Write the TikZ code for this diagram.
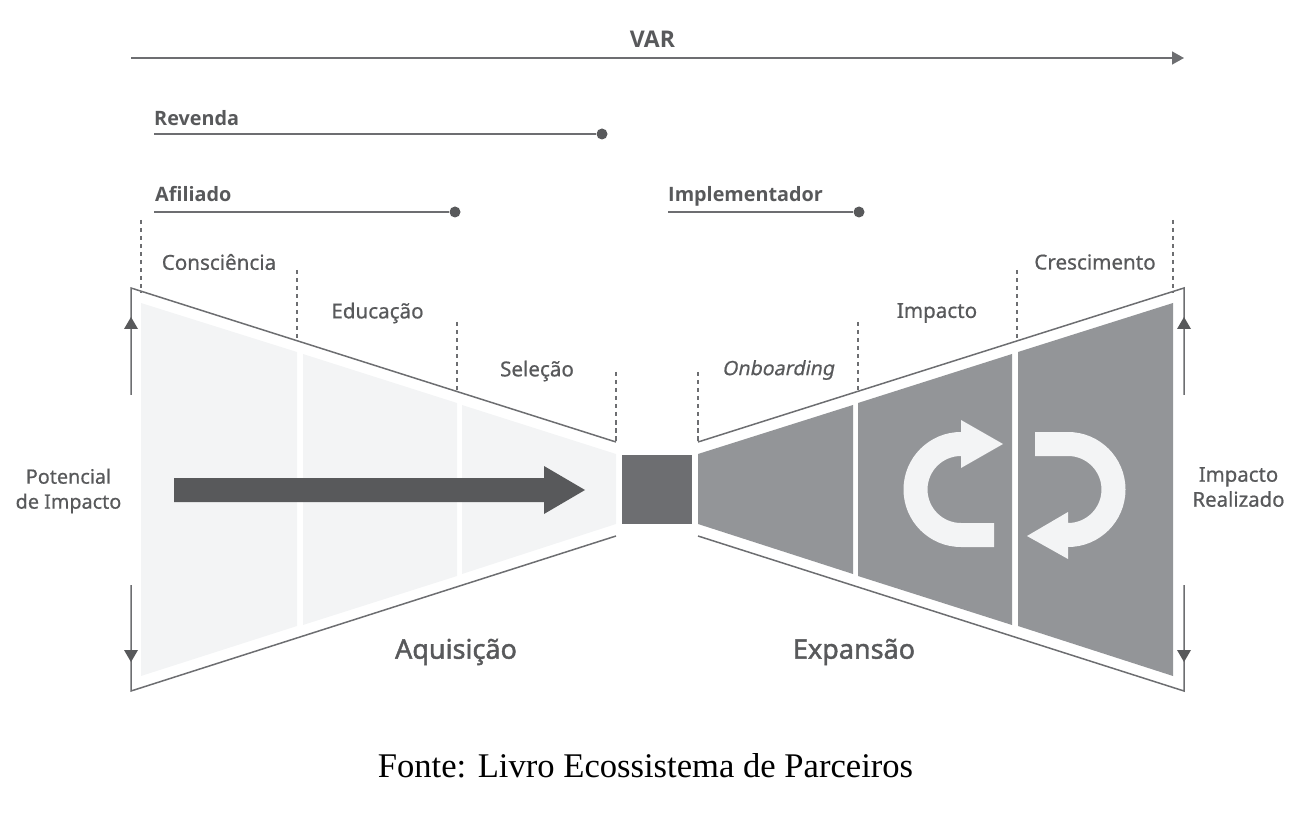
\documentclass[tikz,border=0pt]{standalone}
\usepackage{fontspec}
\setmainfont{Noto Sans}
\newfontfamily\capfont{Liberation Serif}
\newfontfamily\medfont[FakeBold=0.7]{Noto Sans}
\newfontfamily\medital[FakeBold=0.7,FakeSlant=0.2]{Noto Sans}
\newfontfamily\boldf{Open Sans}
\newfontfamily\semif[FakeBold=1.6]{Noto Sans}
\usetikzlibrary{arrows.meta}
\definecolor{lightfill}{HTML}{F3F4F5}
\definecolor{midfill}{HTML}{939598}
\definecolor{darkfill}{HTML}{6D6E71}
\definecolor{arrowfill}{HTML}{58595B}
\definecolor{linecol}{HTML}{6D6E71}
\definecolor{textcol}{HTML}{58595B}
\tikzset{
  outline/.style={draw=linecol,line width=1.5pt,line join=miter},
  dashline/.style={draw=linecol,line width=1.2pt,dash pattern=on 4.5pt off 3.5pt},
  rangeline/.style={draw=linecol,line width=1.5pt},
  dotnode/.style={circle,fill=arrowfill,minimum size=11pt,inner sep=0pt},
  lbl/.style={text=textcol,font=\medfont\fontsize{20.6}{25}\selectfont,inner sep=0pt,align=center},
  lblb/.style={text=textcol,font=\boldf\bfseries\fontsize{19.8}{25}\selectfont,inner sep=0pt},
  big/.style={text=textcol,font=\semif\fontsize{27}{30}\selectfont,inner sep=0pt},
  tri/.style={fill=arrowfill,draw=none}
}
\begin{document}
\begin{tikzpicture}[x=1pt,y=-1pt]
\useasboundingbox (0,0) rectangle (1294,826);
% left fills
\fill[lightfill] (141,303) -- (297,352) -- (297,626) -- (141,676) -- cycle;
\fill[lightfill] (303,354) -- (457,403) -- (457,576) -- (303,625) -- cycle;
\fill[lightfill] (462,405) -- (616,454) -- (616,524) -- (462,574) -- cycle;
% centre
\fill[darkfill] (622,455) rectangle (692,524);
% right fills
\fill[midfill] (698,454) -- (853,405) -- (853,574) -- (698,524) -- cycle;
\fill[midfill] (858,403) -- (1012,354) -- (1012,625) -- (858,576) -- cycle;
\fill[midfill] (1018,352) -- (1173,303) -- (1173,676) -- (1018,626) -- cycle;
% main arrow
\fill[arrowfill] (174,478) -- (544,478) -- (544,466) -- (585,490) -- (544,514) -- (544,502) -- (174,502) -- cycle;
% loop arrows
\fill[lightfill] (1003,444) -- (961,420) -- (961,432) arc[start angle=90,end angle=270,radius=57.5pt] -- (994,547) -- (994,523) -- (961,523) arc[start angle=270,end angle=90,radius=33.5pt] -- (961,468) -- cycle;
\fill[lightfill] (1035,432) -- (1068,432) arc[start angle=90,end angle=-90,radius=57.5pt] -- (1068,559) -- (1027,536) -- (1068,512) -- (1068,523) arc[start angle=-90,end angle=90,radius=33.5pt] -- (1035,456) -- cycle;
% outlines
\coordinate (lt0) at (131,395); \coordinate (lt1) at (131,288); \coordinate (lt2) at (616,442);
\coordinate (lb0) at (131,585); \coordinate (lb1) at (131,691); \coordinate (lb2) at (616,536);
\coordinate (rt0) at (1184,395); \coordinate (rt1) at (1184,288); \coordinate (rt2) at (698,442);
\coordinate (rb0) at (1184,585); \coordinate (rb1) at (1184,691); \coordinate (rb2) at (698,536);
\draw[outline] (lt0) -- (lt1) -- (lt2);
\draw[outline] (lb0) -- (lb1) -- (lb2);
\draw[outline] (rt0) -- (rt1) -- (rt2);
\draw[outline] (rb0) -- (rb1) -- (rb2);
\fill[tri] (131,317) -- (138,329) -- (124,329) -- cycle;
\fill[tri] (131,662) -- (138,650) -- (124,650) -- cycle;
\fill[tri] (1184,317) -- (1191,329) -- (1177,329) -- cycle;
\fill[tri] (1184,662) -- (1191,650) -- (1177,650) -- cycle;
% dashed
\foreach \xa/\ya/\yb in {141/220/293,297/270/340,457/322/390,616/372/442,698/372/442,858/322/390,1017/270/340,1173/220/293}
  \draw[dashline] (\xa,\ya) -- (\xa,\yb);
% range lines
\coordinate (vara) at (131,58); \coordinate (varb) at (1184,58);
\draw[rangeline,-{Triangle[length=12pt,width=13pt]}] (vara) -- (varb);
\coordinate (reva) at (154,134); \node[dotnode] (revb) at (602,134) {};
\draw[rangeline] (reva) -- (revb);
\coordinate (afia) at (154,212); \node[dotnode] (afib) at (455,212) {};
\draw[rangeline] (afia) -- (afib);
\coordinate (impa) at (668,212); \node[dotnode] (impb) at (859,212) {};
\draw[rangeline] (impa) -- (impb);
% labels
\node[lblb,font=\boldf\bfseries\fontsize{23}{25}\selectfont] (tvar) at (652.5,39.5) {VAR};
\node[lblb,anchor=west] (trev) at (154,118) {Revenda};
\node[lblb,anchor=west] (tafi) at (155,194) {Afiliado};
\node[lblb,anchor=west] (timp) at (668,196) {Implementador};
\node[lbl] (t1) at (219,262) {Consciência};
\node[lbl] (t2) at (377.5,313) {Educação};
\node[lbl] (t3) at (537,371) {Seleção};
\node[lbl,font=\medital\fontsize{19.7}{25}\selectfont] (t4) at (778,370) {Onboarding};
\node[lbl] (t5) at (937,313) {Impacto};
\node[lbl] (t6) at (1095,262) {Crescimento};
\node[lbl,font=\medfont\fontsize{19.8}{25}\selectfont] (tpot) at (68.5,491) {Potencial\\de Impacto};
\node[lbl,font=\medfont\fontsize{20.4}{25}\selectfont] (treal) at (1238.5,487) {Impacto\\Realizado};
\node[big] (taq) at (456,652) {Aquisição};
\node[big] (tex) at (854,652) {Expansão};
\node[text=black,inner sep=0pt,font=\capfont\fontsize{34.6}{40}\selectfont] (tcap) at (645.5,766) {Fonte: Livro Ecossistema de Parceiros};
\end{tikzpicture}
\end{document}
